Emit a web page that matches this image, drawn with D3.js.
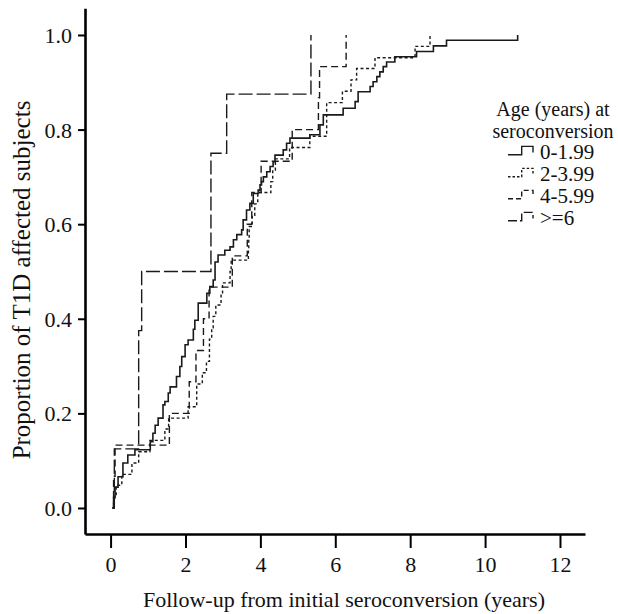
<!DOCTYPE html>
<html>
<head>
<meta charset="utf-8">
<script src="https://cdn.jsdelivr.net/npm/d3@7"></script>
<style>
  html, body { margin: 0; padding: 0; background: #fff; }
  svg { display: block; }
  text { font-family: "Liberation Serif", "Times New Roman", serif; fill: #111; }
</style>
</head>
<body>
<div id="chart"></div>
<script>
// ---- data ----
const groupLabels = ["0-1.99", "2-3.99", "4-5.99", ">=6"];
const legendTitle = ["Age (years) at", "seroconversion"];
const xTickValues = [0, 2, 4, 6, 8, 10, 12];
const yTickValues = [0.0, 0.2, 0.4, 0.6, 0.8, 1.0];
const xTitle = "Follow-up from initial seroconversion (years)";
const yTitle = "Proportion of T1D affected subjects";

// group 0-1.99 (solid)
const g1Time = [0.05, 0.08, 0.12, 0.2, 0.33, 0.46, 0.65, 1.06, 1.13, 1.19, 1.27, 1.40, 1.45, 1.54, 1.59, 1.76, 1.85, 1.90, 1.99, 2.07, 2.21, 2.25, 2.34, 2.57, 2.65, 2.74, 2.79, 2.87, 3.05, 3.19, 3.28, 3.37, 3.50, 3.54, 3.63, 3.72, 3.81, 3.94, 3.99, 4.03, 4.08, 4.17, 4.26, 4.34, 4.39, 4.61, 4.70, 4.79, 5.32, 5.59, 5.68, 6.21, 6.53, 6.61, 6.93, 7.01, 7.11, 7.19, 7.28, 7.37, 7.59, 8.17, 8.62, 8.97, 10.87];
const g1Prop = [0, 0.022, 0.044, 0.066, 0.095, 0.112, 0.123, 0.14, 0.158, 0.175, 0.19, 0.218, 0.225, 0.243, 0.256, 0.278, 0.299, 0.32, 0.345, 0.355, 0.378, 0.397, 0.433, 0.454, 0.468, 0.482, 0.52, 0.535, 0.545, 0.552, 0.567, 0.578, 0.588, 0.609, 0.63, 0.644, 0.665, 0.672, 0.683, 0.69, 0.70, 0.711, 0.722, 0.732, 0.746, 0.757, 0.771, 0.782, 0.789, 0.81, 0.831, 0.845, 0.859, 0.88, 0.891, 0.901, 0.912, 0.922, 0.933, 0.943, 0.954, 0.965, 0.977, 0.989, 1.0];

// group 2-3.99 (short dash)
const g2Time = [0.05, 0.1, 0.15, 0.3, 0.57, 0.75, 1.05, 1.45, 1.55, 2.07, 2.30, 2.45, 2.56, 2.64, 2.70, 2.74, 2.81, 2.95, 2.99, 3.19, 3.22, 3.68, 3.69, 3.70, 3.78, 3.85, 3.93, 4.28, 4.33, 4.40, 4.78, 5.32, 5.77, 6.19, 6.42, 6.57, 7.06, 8.13, 8.53];
const g2Prop = [0, 0.024, 0.048, 0.071, 0.095, 0.119, 0.143, 0.167, 0.19, 0.214, 0.262, 0.286, 0.31, 0.357, 0.381, 0.405, 0.429, 0.452, 0.476, 0.5, 0.524, 0.548, 0.571, 0.595, 0.619, 0.643, 0.667, 0.69, 0.714, 0.738, 0.762, 0.786, 0.857, 0.881, 0.905, 0.929, 0.952, 0.976, 1.0];

// group 4-5.99 (medium dash)
const g3Time = [0.05, 0.08, 0.12, 1.57, 2.10, 2.28, 2.48, 2.63, 3.25, 3.65, 3.77, 4.02, 4.85, 5.55, 5.58, 6.29];
const g3Prop = [0, 0.067, 0.133, 0.2, 0.267, 0.333, 0.4, 0.467, 0.533, 0.6, 0.667, 0.733, 0.8, 0.867, 0.933, 1.0];

// group >=6 (long dash)
const g4Time = [0.05, 0.1, 0.75, 0.83, 2.68, 3.1, 5.35];
const g4Prop = [0, 0.125, 0.375, 0.5, 0.75, 0.875, 1.0];

const groupTimes = [g1Time, g2Time, g3Time, g4Time];
const groupProps = [g1Prop, g2Prop, g3Prop, g4Prop];
const groupDash = [null, "3,2.5", "7,4", "14,4"];
const legendDash = [null, "2.5,2", "5,3", "9,3"];

// ---- drawing ----
const W = 618, H = 614;
const svg = d3.select("#chart").append("svg").attr("width", W).attr("height", H);

const x = d3.scaleLinear().domain([-0.683, 12.668]).range([85, 585]);
const y = d3.scaleLinear().domain([-0.055, 1.0564]).range([534, 8.3]);

// curves
const line = d3.line().x(d => x(d[0])).y(d => y(d[1])).curve(d3.curveStepAfter);
groupTimes.forEach((ts, i) => {
  const pts = ts.map((t, k) => [t, groupProps[i][k]]);
  svg.append("path")
    .attr("d", line(pts))
    .attr("fill", "none")
    .attr("stroke", "#1a1a1a")
    .attr("stroke-width", i === 0 ? 1.6 : 1.4)
    .attr("stroke-dasharray", groupDash[i]);
});

// axes
const xAxis = svg.append("g").attr("transform", "translate(0,534)")
  .call(d3.axisBottom(x).tickValues(xTickValues).tickSize(14).tickSizeOuter(0).tickFormat(d3.format("d")));
xAxis.select(".domain").attr("stroke", "#000").attr("stroke-width", 2.6);
xAxis.selectAll(".tick line").attr("stroke", "#000").attr("stroke-width", 2);
xAxis.selectAll(".tick text").attr("y", 38).attr("dy", 0)
  .style("font-size", "22px").style("font-family", "'Liberation Serif', serif").attr("fill", "#111");

const yAxis = svg.append("g").attr("transform", "translate(85,0)")
  .call(d3.axisLeft(y).tickValues(yTickValues).tickSize(7).tickSizeOuter(0).tickFormat(d3.format(".1f")));
yAxis.select(".domain").attr("stroke", "#000").attr("stroke-width", 2.6);
yAxis.selectAll(".tick line").attr("stroke", "#000").attr("stroke-width", 2);
yAxis.selectAll(".tick text").attr("x", -13).attr("dy", "0.34em")
  .style("font-size", "22px").style("font-family", "'Liberation Serif', serif").attr("fill", "#111");

// axis titles
svg.append("text").attr("x", 344).attr("y", 607).attr("text-anchor", "middle")
  .style("font-size", "22px").text(xTitle);
svg.append("text").attr("transform", "translate(30,280) rotate(-90)").attr("text-anchor", "middle")
  .style("font-size", "25px").text(yTitle);

// legend
const lg = svg.append("g");
legendTitle.forEach((t, i) => {
  lg.append("text").attr("x", 553).attr("y", 116 + i * 21.5).attr("text-anchor", "middle")
    .style("font-size", "20px").text(t);
});
groupLabels.forEach((lab, i) => {
  const base = 159 + i * 22;
  lg.append("path")
    .attr("d", `M508,${base - 4.3}H521.7V${base - 12.6}H533V${base - 6.6}`)
    .attr("fill", "none").attr("stroke", "#1a1a1a").attr("stroke-width", 1.4)
    .attr("stroke-dasharray", legendDash[i]);
  lg.append("text").attr("x", 540).attr("y", base).style("font-size", "21px").text(lab);
});
</script>
</body>
</html>
